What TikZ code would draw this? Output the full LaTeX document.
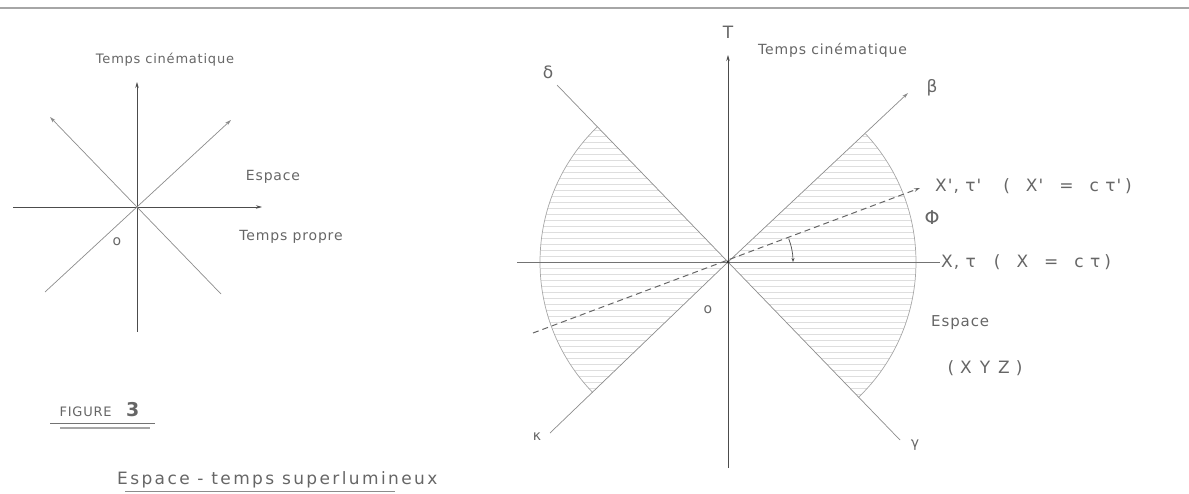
\documentclass[tikz,border=0pt]{standalone}
\usepackage{fontspec}
\newfontfamily\handfont[LetterSpace=6]{DejaVu Sans}
\usetikzlibrary{arrows.meta}
\tikzset{
  axis/.style={draw=black!70, line width=0.8pt},
  cone/.style={draw=black!45, line width=0.7pt},
  hatch/.style={draw=black!13, line width=0.6pt},
  hand/.style={text=black!60, font=\handfont\fontsize{14}{16}\selectfont, inner sep=1pt},
  big/.style={font=\handfont\fontsize{17}{19}\selectfont},
  tip/.style={-{Stealth[length=6pt,width=3.5pt]}}
}
\newcommand\gapp{\hspace{16pt}}
\begin{document}
\begin{tikzpicture}[x=1pt,y=1pt]
\useasboundingbox (0,0) rectangle (1189,493);
% Frame line on top:
\coordinate (frameL) at (0,485);
\coordinate (frameR) at (1189,485);
\draw[black!35, line width=1.2pt] (frameL) -- (frameR);

% Left figure, points:
\coordinate (LO) at (137,286);
\coordinate (LT) at (137,411);
\coordinate (LB) at (137,161);
\coordinate (LW) at (13,286);
\coordinate (LE) at (262,286);
\coordinate (LNW) at (50,376);
\coordinate (LNE) at (231,373);
\coordinate (LSW) at (45,201);
\coordinate (LSE) at (221,199);
% Left figure, paths:
\draw[axis, tip] (LB) -- (LT);
\draw[axis, tip] (LW) -- (LE);
\draw[cone, tip] (LSE) -- (LNW);
\draw[cone, tip] (LSW) -- (LNE);
% Left figure, labels:
\node[hand, font=\handfont\fontsize{13}{15}\selectfont] (lkin) at (165,433) {Temps cinématique};
\node[hand] (lesp) at (273,316) {Espace};
\node[hand] (lprop) at (291,256) {Temps propre};
\node[hand] (lo) at (117,251) {o};

% Title and caption:
\node[hand, font=\handfont\fontsize{19}{21}\selectfont] (fig) at (100,83) {{\fontsize{13}{15}\selectfont FIGURE}\ \ \textbf{3}};
\coordinate (figA) at (50,70);
\coordinate (figB) at (155,70);
\coordinate (figC) at (60,65);
\coordinate (figD) at (150,65);
\draw[black!55, line width=1pt] (figA) -- (figB);
\draw[black!35, line width=1.5pt] (figC) -- (figD);
\node[hand, font=\handfont\fontsize{17}{19}\selectfont\addfontfeature{LetterSpace=14}, anchor=west] (capt) at (116,13) {Espace - temps superlumineux};
\coordinate (captA) at (125,2);
\coordinate (captB) at (395,2);
\draw[black!45, line width=0.8pt] (captA) -- (captB);

% Right figure, points:
\coordinate (RO) at (728,231);
\coordinate (RT) at (728,438);
\coordinate (RB) at (728,25);
\coordinate (RW) at (517,231);
\coordinate (RE) at (940,231);
\coordinate (Rbeta) at (908,400);
\coordinate (Rdelta) at (557,408);
\coordinate (Rkappa) at (550,60);
\coordinate (Rgamma) at (900,53);
\coordinate (XPs) at (533,160);
\coordinate (XPt) at (920,305);

% Right figure, hatched space regions:
\begin{scope}
  \clip (RO) -- ++(-46:188) arc[start angle=-46, end angle=43, radius=188] -- cycle;
  \foreach \yy in {-186,-180,...,186}
    \draw[hatch] (720,231+\yy) -- (930,231+\yy);
\end{scope}
\begin{scope}
  \clip (RO) -- ++(134:188) arc[start angle=134, end angle=224, radius=188] -- cycle;
  \foreach \yy in {-186,-180,...,186}
    \draw[hatch] (530,231+\yy) -- (735,231+\yy);
\end{scope}
\draw[cone, draw=black!35] (RO) ++(-46:188) arc[start angle=-46, end angle=43, radius=188];
\draw[cone, draw=black!35] (RO) ++(134:188) arc[start angle=134, end angle=224, radius=188];

% Right figure, axes and cone lines:
\draw[axis, tip] (RB) -- (RT);
\draw[axis, draw=black!55] (RW) -- (RE);
\draw[cone, tip] (RO) -- (Rbeta);
\draw[cone] (RO) -- (Rdelta);
\draw[cone] (RO) -- (Rkappa);
\draw[cone] (RO) -- (Rgamma);
\draw[black!60, line width=1pt, dash pattern=on 6pt off 4pt, tip] (XPs) -- (XPt);
\draw[black!70, line width=0.7pt, -{Stealth[length=4pt,width=3pt]}] (RO) ++(21:65) arc[start angle=21, end angle=0, radius=65];
\fill[black!80] (RO) circle (1.6pt);

% Right figure, labels:
\node[hand, big] (lT) at (728,461) {T};
\node[hand, anchor=west] (rkin) at (757,443) {Temps cinématique};
\node[hand, big] (lbeta) at (932,405) {β};
\node[hand, big] (ldelta) at (548,421) {δ};
\node[hand] (lkappa) at (537,56) {κ};
\node[hand] (lgamma) at (915,48) {γ};
\node[hand, big, anchor=west] (lXP) at (934,307) {X', τ'\hspace{22pt}(\gapp X'\gapp=\gapp c τ'\hspace{4pt})};
\node[hand, font=\handfont\fontsize{19}{21}\selectfont] (lPhi) at (932,275) {Φ};
\node[hand, big, anchor=west] (lX) at (940,231) {X, τ\hspace{18pt}(\gapp X\gapp=\gapp c τ\hspace{4pt})};
\node[hand] (ro) at (708,183) {o};
\node[hand, big, anchor=west, font=\handfont\fontsize{15}{17}\selectfont] (resp) at (930,170) {Espace};
\node[hand, big] (rxyz) at (985,125) {(\hspace{6pt}X\hspace{8pt}Y\hspace{8pt}Z\hspace{6pt})};
\end{tikzpicture}
\end{document}
